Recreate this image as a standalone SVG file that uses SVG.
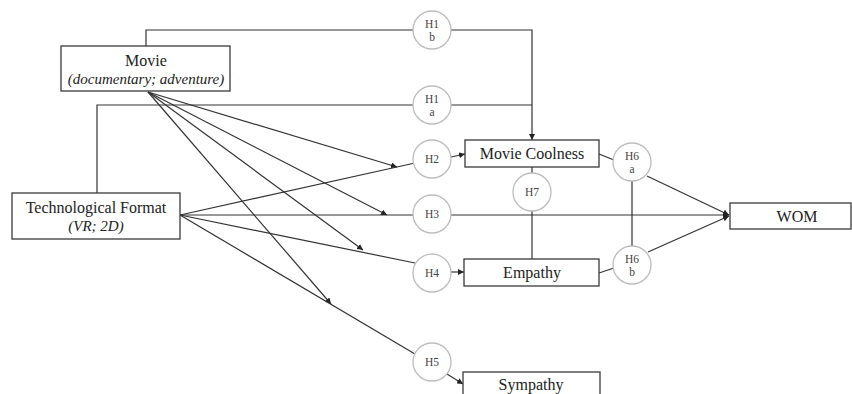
<svg xmlns="http://www.w3.org/2000/svg" width="852" height="394" viewBox="0 0 852 394">
<style>
.box{fill:#fff;stroke:#3a3a3a;stroke-width:1.3}
.ln{fill:none;stroke:#333;stroke-width:1.2}
.hc{fill:#fff;stroke:#bdbdbd;stroke-width:1.3}
.t{font-family:"Liberation Serif",serif;font-size:16px;fill:#222;text-anchor:middle}
.ti{font-family:"Liberation Serif",serif;font-size:15px;font-style:italic;fill:#222;text-anchor:middle}
.h{font-family:"Liberation Serif",serif;font-size:11.5px;fill:#444;text-anchor:middle}
</style>
<defs>
<marker id="ar" viewBox="0 0 10 10" refX="10" refY="5" markerWidth="6" markerHeight="6" orient="auto" markerUnits="userSpaceOnUse">
<path d="M0,0 L10,5 L0,10 z" fill="#222"/>
</marker>
</defs>
<rect width="852" height="394" fill="#fff"/>
<g id="connectors">
<polyline class="ln" points="146,46 146,30 532,30 532,140" marker-end="url(#ar)"/>
<polyline class="ln" points="97,193 97,105 532,105"/>
<line class="ln" x1="148" y1="92" x2="397" y2="167" marker-end="url(#ar)"/>
<line class="ln" x1="148" y1="92" x2="387" y2="215" marker-end="url(#ar)"/>
<line class="ln" x1="148" y1="92" x2="363" y2="250" marker-end="url(#ar)"/>
<line class="ln" x1="148" y1="92" x2="331" y2="304" marker-end="url(#ar)"/>
<line class="ln" x1="180" y1="215" x2="415" y2="163"/>
<line class="ln" x1="180" y1="215" x2="729" y2="215" marker-end="url(#ar)"/>
<line class="ln" x1="180" y1="215" x2="415" y2="263"/>
<line class="ln" x1="180" y1="215" x2="415" y2="354"/>
<line class="ln" x1="451" y1="157" x2="465" y2="154" marker-end="url(#ar)"/>
<line class="ln" x1="451" y1="272" x2="464" y2="272" marker-end="url(#ar)"/>
<line class="ln" x1="447" y1="374" x2="463" y2="384" marker-end="url(#ar)"/>
<line class="ln" x1="532" y1="167" x2="532" y2="259"/>
<line class="ln" x1="632" y1="175" x2="632" y2="252"/>
<line class="ln" x1="599" y1="154" x2="614" y2="160"/>
<line class="ln" x1="647" y1="176" x2="729" y2="215" marker-end="url(#ar)"/>
<line class="ln" x1="599" y1="273" x2="614" y2="268"/>
<line class="ln" x1="648" y1="252" x2="729" y2="216" marker-end="url(#ar)"/>
</g>
<g id="movie">
<rect class="box" x="61" y="46" width="169" height="45"/>
<text class="t" x="146" y="66">Movie</text>
<text class="ti" x="146" y="84">(documentary; adventure)</text>
</g>
<g id="techformat">
<rect class="box" x="12" y="193" width="168" height="46"/>
<text class="t" x="96" y="213">Technological Format</text>
<text class="ti" x="96" y="231">(VR; 2D)</text>
</g>
<g id="moviecoolness">
<rect class="box" x="465" y="140" width="134" height="27"/>
<text class="t" x="532" y="159">Movie Coolness</text>
</g>
<g id="empathy">
<rect class="box" x="464" y="259" width="135" height="27"/>
<text class="t" x="532" y="278">Empathy</text>
</g>
<g id="sympathy">
<rect class="box" x="463" y="372" width="137" height="30"/>
<text class="t" x="531" y="390">Sympathy</text>
</g>
<g id="wom">
<rect class="box" x="730" y="203" width="121" height="26"/>
<text class="t" x="797" y="222">WOM</text>
</g>
<g id="h1b"><circle class="hc" cx="432" cy="30" r="19"/><text class="h" x="432" y="28">H1</text><text class="h" x="432" y="41">b</text></g>
<g id="h1a"><circle class="hc" cx="432" cy="105" r="19"/><text class="h" x="432" y="103">H1</text><text class="h" x="432" y="116">a</text></g>
<g id="h2"><circle class="hc" cx="432" cy="159" r="19"/><text class="h" x="432" y="163">H2</text></g>
<g id="h3"><circle class="hc" cx="432" cy="214" r="19"/><text class="h" x="432" y="218">H3</text></g>
<g id="h4"><circle class="hc" cx="432" cy="273" r="19"/><text class="h" x="432" y="277">H4</text></g>
<g id="h5"><circle class="hc" cx="432" cy="362" r="19"/><text class="h" x="432" y="366">H5</text></g>
<g id="h7"><circle class="hc" cx="532" cy="192" r="19"/><text class="h" x="532" y="196">H7</text></g>
<g id="h6a"><circle class="hc" cx="632" cy="162" r="19"/><text class="h" x="632" y="160">H6</text><text class="h" x="632" y="173">a</text></g>
<g id="h6b"><circle class="hc" cx="632" cy="265" r="19"/><text class="h" x="632" y="263">H6</text><text class="h" x="632" y="276">b</text></g>
</svg>
